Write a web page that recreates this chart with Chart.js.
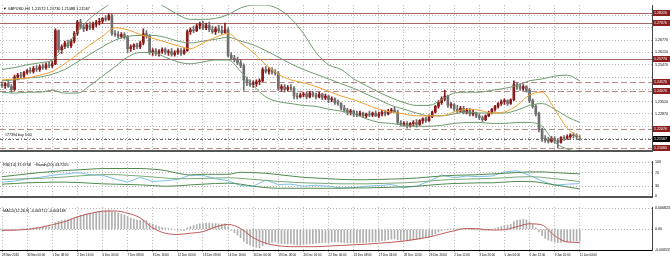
<!DOCTYPE html>
<html>
<head>
<meta charset="utf-8">
<title>GBPUSD,H4</title>
<script src="https://cdn.jsdelivr.net/npm/chart.js@4.4.1/dist/chart.umd.min.js"></script>
<style>
  html, body { margin: 0; padding: 0; background: #fff; }
  #janela { position: relative; width: 670px; height: 261px; overflow: hidden; }
  #janela canvas { position: absolute; left: 0; }
</style>
</head>
<body>
<div id="janela">
  <canvas id="principal" width="670" height="156" style="top:0"></canvas>
  <canvas id="painelRsi" width="670" height="46" style="top:156px"></canvas>
  <canvas id="painelMacd" width="670" height="59" style="top:202px"></canvas>
</div>
<script>
// Rótulos do eixo x (um a cada 8 barras de H4)
var datas = ['28 Nov 2016', '30 Nov 00:00', '1 Dec 08:00', '2 Dec 16:00', '6 Dec 00:00', '7 Dec 08:00',
    '8 Dec 16:00', '12 Dec 00:00', '13 Dec 08:00', '14 Dec 16:00', '16 Dec 00:00', '19 Dec 08:00',
    '20 Dec 16:00', '22 Dec 00:00', '23 Dec 08:00', '27 Dec 04:00', '28 Dec 12:00', '29 Dec 20:00',
    '2 Jan 12:00', '3 Jan 20:00', '5 Jan 04:00', '6 Jan 12:00', '9 Jan 20:00', '11 Jan 04:00'];

// Velas GBPUSD H4
var abertura = [1.2442, 1.2437, 1.2447, 1.2432, 1.2417, 1.2482, 1.2492, 1.2487, 1.2507, 1.2517,
    1.2512, 1.2527, 1.2522, 1.2537, 1.2532, 1.2547, 1.2542, 1.2552, 1.2727, 1.2627,
    1.2642, 1.2662, 1.2647, 1.2672, 1.2712, 1.2772, 1.2747, 1.2737, 1.2757, 1.2742,
    1.2762, 1.2772, 1.2777, 1.2792, 1.2787, 1.2807, 1.2712, 1.2707, 1.2697, 1.2707,
    1.2692, 1.2632, 1.2642, 1.2652, 1.2642, 1.2662, 1.2712, 1.2697, 1.2612, 1.2622,
    1.2607, 1.2617, 1.2627, 1.2612, 1.2617, 1.2602, 1.2612, 1.2622, 1.2607, 1.2622,
    1.2722, 1.2732, 1.2727, 1.2752, 1.2762, 1.2742, 1.2757, 1.2732, 1.2722, 1.2737,
    1.2727, 1.2717, 1.2732, 1.2597, 1.2582, 1.2572, 1.2557, 1.2542, 1.2467, 1.2452,
    1.2442, 1.2447, 1.2457, 1.2462, 1.2522, 1.2512, 1.2522, 1.2507, 1.2502, 1.2422,
    1.2432, 1.2417, 1.2427, 1.2422, 1.2382, 1.2377, 1.2387, 1.2392, 1.2377, 1.2397,
    1.2387, 1.2377, 1.2392, 1.2372, 1.2382, 1.2362, 1.2367, 1.2347, 1.2342, 1.2317,
    1.2307, 1.2297, 1.2302, 1.2287, 1.2282, 1.2292, 1.2277, 1.2287, 1.2282, 1.2292,
    1.2277, 1.2287, 1.2297, 1.2287, 1.2302, 1.2307, 1.2297, 1.2242, 1.2232, 1.2237,
    1.2227, 1.2237, 1.2242, 1.2232, 1.2252, 1.2262, 1.2252, 1.2272, 1.2297, 1.2327,
    1.2347, 1.2367, 1.2382, 1.2332, 1.2337, 1.2312, 1.2302, 1.2317, 1.2297, 1.2307,
    1.2287, 1.2292, 1.2277, 1.2267, 1.2257, 1.2277, 1.2292, 1.2312, 1.2327, 1.2342,
    1.2352, 1.2357, 1.2342, 1.2362, 1.2442, 1.2432, 1.2422, 1.2432, 1.2412, 1.2357,
    1.2327, 1.2287, 1.2202, 1.2157, 1.2147, 1.2142, 1.2157, 1.2147, 1.2137, 1.2162,
    1.2157, 1.2167, 1.2177, 1.2172, 1.21572];
var maxima = [1.2457, 1.2452, 1.2462, 1.2442, 1.2492, 1.2502, 1.2507, 1.2512, 1.2522, 1.2532,
    1.2537, 1.2542, 1.2547, 1.2552, 1.2557, 1.2562, 1.2567, 1.2737, 1.2732, 1.2652,
    1.2672, 1.2677, 1.2682, 1.2722, 1.2782, 1.2787, 1.2762, 1.2767, 1.2772, 1.2772,
    1.2782, 1.2792, 1.2797, 1.2807, 1.2817, 1.2817, 1.2727, 1.2722, 1.2717, 1.2717,
    1.2702, 1.2652, 1.2657, 1.2662, 1.2672, 1.2737, 1.2727, 1.2707, 1.2632, 1.2632,
    1.2627, 1.2637, 1.2637, 1.2627, 1.2632, 1.2622, 1.2632, 1.2632, 1.2632, 1.2732,
    1.2742, 1.2752, 1.2762, 1.2772, 1.2777, 1.2767, 1.2772, 1.2752, 1.2747, 1.2757,
    1.2752, 1.2767, 1.2742, 1.2612, 1.2597, 1.2587, 1.2572, 1.2552, 1.2482, 1.2467,
    1.2462, 1.2467, 1.2472, 1.2532, 1.2537, 1.2532, 1.2532, 1.2522, 1.2512, 1.2442,
    1.2442, 1.2437, 1.2442, 1.2432, 1.2397, 1.2397, 1.2402, 1.2402, 1.2407, 1.2407,
    1.2397, 1.2402, 1.2397, 1.2392, 1.2387, 1.2377, 1.2372, 1.2362, 1.2347, 1.2332,
    1.2317, 1.2312, 1.2307, 1.2302, 1.2302, 1.2297, 1.2292, 1.2302, 1.2297, 1.2302,
    1.2297, 1.2307, 1.2307, 1.2312, 1.2317, 1.2322, 1.2307, 1.2252, 1.2247, 1.2247,
    1.2242, 1.2252, 1.2257, 1.2257, 1.2267, 1.2272, 1.2282, 1.2302, 1.2332, 1.2357,
    1.2377, 1.2412, 1.2387, 1.2347, 1.2342, 1.2332, 1.2327, 1.2327, 1.2317, 1.2317,
    1.2307, 1.2297, 1.2287, 1.2277, 1.2282, 1.2302, 1.2317, 1.2332, 1.2347, 1.2362,
    1.2367, 1.2362, 1.2367, 1.2462, 1.2452, 1.2447, 1.2442, 1.2437, 1.2422, 1.2367,
    1.2337, 1.2297, 1.2212, 1.2172, 1.2162, 1.2167, 1.2167, 1.2157, 1.2167, 1.2172,
    1.2177, 1.2182, 1.2187, 1.2182, 1.21730];
var minima = [1.2427, 1.2422, 1.2427, 1.2402, 1.2412, 1.2467, 1.2477, 1.2472, 1.2497, 1.2502,
    1.2502, 1.2512, 1.2512, 1.2522, 1.2522, 1.2532, 1.2532, 1.2547, 1.2612, 1.2607,
    1.2632, 1.2637, 1.2637, 1.2662, 1.2702, 1.2737, 1.2722, 1.2727, 1.2732, 1.2732,
    1.2747, 1.2757, 1.2767, 1.2777, 1.2782, 1.2702, 1.2697, 1.2687, 1.2687, 1.2682,
    1.2612, 1.2617, 1.2627, 1.2632, 1.2632, 1.2652, 1.2687, 1.2602, 1.2597, 1.2597,
    1.2592, 1.2607, 1.2602, 1.2597, 1.2592, 1.2592, 1.2602, 1.2597, 1.2602, 1.2617,
    1.2707, 1.2717, 1.2722, 1.2737, 1.2732, 1.2732, 1.2722, 1.2712, 1.2707, 1.2717,
    1.2707, 1.2712, 1.2587, 1.2572, 1.2562, 1.2547, 1.2532, 1.2412, 1.2437, 1.2432,
    1.2427, 1.2432, 1.2442, 1.2457, 1.2502, 1.2497, 1.2497, 1.2492, 1.2412, 1.2407,
    1.2402, 1.2407, 1.2412, 1.2367, 1.2367, 1.2372, 1.2377, 1.2367, 1.2372, 1.2377,
    1.2367, 1.2372, 1.2362, 1.2362, 1.2347, 1.2352, 1.2337, 1.2332, 1.2307, 1.2297,
    1.2282, 1.2282, 1.2272, 1.2272, 1.2277, 1.2267, 1.2267, 1.2272, 1.2272, 1.2272,
    1.2267, 1.2277, 1.2277, 1.2282, 1.2292, 1.2292, 1.2232, 1.2222, 1.2222, 1.2212,
    1.2217, 1.2222, 1.2217, 1.2227, 1.2237, 1.2242, 1.2247, 1.2267, 1.2292, 1.2317,
    1.2337, 1.2357, 1.2322, 1.2317, 1.2302, 1.2292, 1.2297, 1.2287, 1.2287, 1.2277,
    1.2277, 1.2267, 1.2257, 1.2247, 1.2252, 1.2272, 1.2287, 1.2302, 1.2317, 1.2332,
    1.2337, 1.2332, 1.2337, 1.2357, 1.2417, 1.2412, 1.2412, 1.2402, 1.2347, 1.2317,
    1.2277, 1.2192, 1.2142, 1.2137, 1.2132, 1.2137, 1.2132, 1.2107, 1.2132, 1.2147,
    1.2152, 1.2157, 1.2162, 1.2152, 1.21488];
var fechamento = [1.2437, 1.2447, 1.2432, 1.2417, 1.2482, 1.2492, 1.2487, 1.2507, 1.2517, 1.2512,
    1.2527, 1.2522, 1.2537, 1.2532, 1.2547, 1.2542, 1.2552, 1.2727, 1.2627, 1.2642,
    1.2662, 1.2647, 1.2672, 1.2712, 1.2772, 1.2747, 1.2737, 1.2757, 1.2742, 1.2762,
    1.2772, 1.2777, 1.2792, 1.2787, 1.2807, 1.2712, 1.2707, 1.2697, 1.2707, 1.2692,
    1.2632, 1.2642, 1.2652, 1.2642, 1.2662, 1.2712, 1.2697, 1.2612, 1.2622, 1.2607,
    1.2617, 1.2627, 1.2612, 1.2617, 1.2602, 1.2612, 1.2622, 1.2607, 1.2622, 1.2722,
    1.2732, 1.2727, 1.2752, 1.2762, 1.2742, 1.2757, 1.2732, 1.2722, 1.2737, 1.2727,
    1.2717, 1.2732, 1.2597, 1.2582, 1.2572, 1.2557, 1.2542, 1.2467, 1.2452, 1.2442,
    1.2447, 1.2457, 1.2462, 1.2522, 1.2512, 1.2522, 1.2507, 1.2502, 1.2422, 1.2432,
    1.2417, 1.2427, 1.2422, 1.2382, 1.2377, 1.2387, 1.2392, 1.2377, 1.2397, 1.2387,
    1.2377, 1.2392, 1.2372, 1.2382, 1.2362, 1.2367, 1.2347, 1.2342, 1.2317, 1.2307,
    1.2297, 1.2302, 1.2287, 1.2282, 1.2292, 1.2277, 1.2287, 1.2282, 1.2292, 1.2277,
    1.2287, 1.2297, 1.2287, 1.2302, 1.2307, 1.2297, 1.2242, 1.2232, 1.2237, 1.2227,
    1.2237, 1.2242, 1.2232, 1.2252, 1.2262, 1.2252, 1.2272, 1.2297, 1.2327, 1.2347,
    1.2367, 1.2382, 1.2332, 1.2337, 1.2312, 1.2302, 1.2317, 1.2297, 1.2307, 1.2287,
    1.2292, 1.2277, 1.2267, 1.2257, 1.2277, 1.2292, 1.2312, 1.2327, 1.2342, 1.2352,
    1.2357, 1.2342, 1.2362, 1.2442, 1.2432, 1.2422, 1.2432, 1.2412, 1.2357, 1.2327,
    1.2287, 1.2202, 1.2157, 1.2147, 1.2142, 1.2157, 1.2147, 1.2137, 1.2162, 1.2157,
    1.2167, 1.2177, 1.2172, 1.2167, 1.21567];

// Barras onde as linhas dos indicadores foram lidas
var amostras = [0, 4, 8, 12, 16, 20, 24, 28, 32, 36, 40, 44, 48, 52, 56, 60, 64, 68, 72, 76, 80, 84, 88, 92,
    96, 100, 104, 108, 112, 116, 120, 124, 128, 132, 136, 140, 144, 148, 152, 156, 160, 164, 168, 172, 176, 180, 184];
var mediaLaranja = [1.2467, 1.2472, 1.2477, 1.2492, 1.2512, 1.2552, 1.2602, 1.2652, 1.2697, 1.2742,
    1.2732, 1.2707, 1.2687, 1.2667, 1.2647, 1.2632, 1.2662, 1.2692, 1.2712, 1.2662,
    1.2612, 1.2547, 1.2497, 1.2467, 1.2452, 1.2432, 1.2407, 1.2382, 1.2362, 1.2337,
    1.2312, 1.2297, 1.2287, 1.2277, 1.2277, 1.2277, 1.2297, 1.2312, 1.2307, 1.2292,
    1.2297, 1.2332, 1.2387, 1.2402, 1.2312, 1.2212, 1.2162];
var bandaSuperior = [1.2522, 1.2532, 1.2547, 1.2557, 1.2572, 1.2637, 1.2722, 1.2792, 1.2842, 1.2882,
    1.2892, 1.2892, 1.2882, 1.2852, 1.2812, 1.2787, 1.2787, 1.2792, 1.2812, 1.2847,
    1.2862, 1.2862, 1.2842, 1.2792, 1.2712, 1.2612, 1.2547, 1.2522, 1.2472, 1.2437,
    1.2402, 1.2372, 1.2347, 1.2332, 1.2332, 1.2362, 1.2397, 1.2402, 1.2402, 1.2412,
    1.2422, 1.2437, 1.2462, 1.2472, 1.2487, 1.2492, 1.2462];
var bandaMedia = [1.2462, 1.2467, 1.2477, 1.2482, 1.2497, 1.2522, 1.2562, 1.2602, 1.2642, 1.2677,
    1.2697, 1.2702, 1.2702, 1.2692, 1.2672, 1.2662, 1.2672, 1.2682, 1.2692, 1.2672,
    1.2652, 1.2622, 1.2587, 1.2552, 1.2522, 1.2497, 1.2472, 1.2447, 1.2422, 1.2392,
    1.2362, 1.2332, 1.2312, 1.2292, 1.2277, 1.2277, 1.2287, 1.2297, 1.2292, 1.2292,
    1.2292, 1.2307, 1.2332, 1.2342, 1.2312, 1.2272, 1.2242];
var bandaInferior = [1.2402, 1.2397, 1.2402, 1.2402, 1.2412, 1.2397, 1.2397, 1.2437, 1.2487, 1.2537,
    1.2587, 1.2612, 1.2612, 1.2587, 1.2562, 1.2552, 1.2562, 1.2572, 1.2572, 1.2512,
    1.2437, 1.2377, 1.2352, 1.2342, 1.2332, 1.2327, 1.2312, 1.2302, 1.2287, 1.2262,
    1.2242, 1.2237, 1.2227, 1.2222, 1.2222, 1.2227, 1.2237, 1.2242, 1.2242, 1.2237,
    1.2237, 1.2242, 1.2242, 1.2222, 1.2137, 1.2102, 1.2087];

// RSI(14) e as bandas sobre o RSI
var rsi = [42, 45, 52, 56, 62, 66, 70, 64, 62, 51, 42, 56, 44, 46, 50, 63, 62, 52, 46,
    32, 30, 48, 35, 36, 30, 33, 30, 25, 26, 30, 32, 35, 26, 30, 45,
    63, 55, 60, 58, 60, 72, 75, 62, 45, 33, 36, 37.68];
var rsiSuperior = [58, 62, 66, 70, 73, 76, 78, 80, 82, 82, 82, 82, 80, 76, 68, 63, 65, 65, 65,
    71, 70, 68, 64, 60, 56, 54, 52, 50, 49, 49, 50, 51, 52, 54, 57, 60, 62, 63, 64, 66,
    68, 70, 72, 72, 70, 68, 66];
var rsiMedia = [50, 51, 52, 53, 55, 57, 60, 62, 64, 64, 62, 60, 57, 54, 52, 52, 53, 54, 55, 53,
    50, 47, 44, 42, 40, 39, 38, 37, 37, 37, 38, 39, 40, 42, 45, 48, 50, 51, 52, 53,
    55, 57, 58, 56, 52, 48, 43.72];
var rsiInferior = [36, 38, 40, 41, 42, 42, 41, 39, 37, 36, 35, 34, 32, 30, 31, 34, 36, 38, 39,
    36, 30, 26, 24, 24, 24, 24, 24, 24, 25, 25, 26, 27, 28, 30, 33, 36, 38, 39, 40, 40,
    42, 44, 44, 40, 34, 28, 22];

// MACD(12,26,9): linha principal (histograma, uma por barra) e sinal
var macdPrincipal = [-0.0002, -0.0003, -0.0003, -0.0004, -0.0003, -0.0001, 0.0001, 0.0002,
    0.0003, 0.0004, 0.0005, 0.0006, 0.0006, 0.0007, 0.0008, 0.0009,
    0.0010, 0.0022, 0.0026, 0.0028, 0.0030, 0.0031, 0.0033, 0.0036,
    0.0042, 0.0045, 0.0047, 0.0049, 0.0050, 0.0052, 0.0054, 0.0056,
    0.0058, 0.0060, 0.0062, 0.0058, 0.0055, 0.0052, 0.0049, 0.0046,
    0.0040, 0.0036, 0.0033, 0.0030, 0.0028, 0.0030, 0.0028, 0.0020,
    0.0016, 0.0012, 0.0009, 0.0007, 0.0005, 0.0003, 0.0001, -0.0001,
    -0.0002, -0.0002, -0.0003, 0.0005, 0.0009, 0.0012, 0.0015, 0.0018,
    0.0019, 0.0020, 0.0020, 0.0019, 0.0019, 0.0018, 0.0017, 0.0018,
    0.0008, -0.0002, -0.0010, -0.0018, -0.0026, -0.0038, -0.0045, -0.0050,
    -0.0054, -0.0057, -0.0059, -0.0052, -0.0047, -0.0044, -0.0041, -0.0039,
    -0.0043, -0.0045, -0.0046, -0.0046, -0.0046, -0.0048, -0.0049, -0.0049,
    -0.0048, -0.0047, -0.0046, -0.0045, -0.0044, -0.0043, -0.0042, -0.0041,
    -0.0041, -0.0040, -0.0040, -0.0040, -0.0041, -0.0042, -0.0043, -0.0043,
    -0.0043, -0.0043, -0.0042, -0.0042, -0.0041, -0.0040, -0.0039, -0.0039,
    -0.0038, -0.0036, -0.0035, -0.0033, -0.0031, -0.0030, -0.0033, -0.0035,
    -0.0036, -0.0036, -0.0035, -0.0034, -0.0033, -0.0031, -0.0028, -0.0026,
    -0.0023, -0.0019, -0.0014, -0.0009, -0.0005, -0.0001, 0.0001, 0.0002,
    0.0002, 0.0002, 0.0003, 0.0002, 0.0002, 0.0001, 0.0000, -0.0001,
    -0.0002, -0.0003, -0.0003, -0.0002, 0.0000, 0.0003, 0.0006, 0.0009,
    0.0012, 0.0014, 0.0016, 0.0025, 0.0029, 0.0031, 0.0032, 0.0030,
    0.0024, 0.0016, 0.0006, -0.0008, -0.0020, -0.0028, -0.0034, -0.0037,
    -0.0040, -0.0042, -0.0041, -0.0040, -0.0039, -0.0038, -0.0037, -0.0037, -0.003712];
var macdSinal = [-0.0003, -0.0002, 0.0000, 0.0006, 0.0015, 0.0025, 0.0040, 0.0051, 0.0058, 0.0059,
    0.0052, 0.0037, 0.0005, -0.0012, -0.0016, -0.0012, -0.0007, 0.0008, 0.0016, 0.0003,
    -0.0026, -0.0044, -0.0052, -0.0055, -0.0055, -0.0055, -0.0053, -0.0051, -0.0049, -0.0047,
    -0.0044, -0.0041, -0.0037, -0.0031, -0.0024, -0.0014, -0.0004, 0.0003, 0.0002, -0.0002,
    -0.0001, 0.0009, 0.0018, 0.0014, -0.0020, -0.0040, -0.004148];

// Escalas e linhas horizontais
var precoTicks = [1.2807, 1.2742, 1.2677, 1.2612, 1.2547, 1.2482, 1.2417, 1.2352, 1.2287, 1.2222, 1.2157];
var niveisSolidos = [1.2822, 1.2767, 1.2577];
var niveisTracejados = [1.2457, 1.2407, 1.2207, 1.2106];
var precoAtual = 1.21567;
var rsiTicks = [100, 70, 30, 0];
var macdTicks = [0.006824, 0, -0.006555];

var corGrade = '#b4b4b4';
var fonte = '"Liberation Sans", "DejaVu Sans", sans-serif';

function pontos(valores) {
    return valores.map(function(v, k) { return { x: amostras[k], y: v }; });
}

function eixoX(comRotulos) {
    var eixo = {
        type: 'linear',
        offset: false,
        bounds: 'data',
        min: -0.64,
        max: 207,
        afterBuildTicks: function(escala) {
            escala.ticks = datas.map(function(d, k) { return { value: k * 8 }; });
        },
        ticks: {
            display: comRotulos,
            autoSkip: false,
            maxRotation: 0,
            align: 'start',
            padding: 1,
            color: '#000',
            font: { family: fonte, size: 3 },
            callback: function(v) { return datas[Math.round(v / 8)]; }
        },
        grid: { color: corGrade, offset: false, drawTicks: comRotulos, tickLength: 2 },
        border: { display: true, color: comRotulos ? '#000' : '#555', width: comRotulos ? 1 : 2, dash: [1, 2] }
    };
    eixo.afterFit = function(escala) {
        escala.height = comRotulos ? 11 : 2;
        escala.paddingLeft = 0;
        escala.paddingRight = 0;
    };
    return eixo;
}

function eixoY(min, max, valores, formato) {
    return {
        position: 'right',
        min: min,
        max: max,
        afterBuildTicks: function(escala) {
            escala.ticks = valores.map(function(v) { return { value: v }; });
        },
        afterFit: function(escala) { escala.width = 18; },
        ticks: { color: '#000', padding: 3, font: { family: fonte, size: 3.6 }, callback: formato },
        grid: { color: corGrade, drawTicks: false },
        border: { display: true, color: '#444', width: 1, dash: [1, 2] }
    };
}

function opcoesBase(escalas, titulo) {
    return {
        responsive: false,
        animation: false,
        events: [],
        layout: { padding: 0 },
        plugins: { legend: { display: false }, tooltip: { enabled: false }, titulo: { texto: titulo } },
        scales: escalas
    };
}

// Escreve o titulo de cada painel no canto superior esquerdo
var pluginTitulo = {
    id: 'titulo',
    afterDraw: function(chart, args, opcoes) {
        var ctx = chart.ctx;
        ctx.save();
        ctx.font = '3.8px ' + fonte;
        ctx.fillStyle = '#000';
        ctx.textBaseline = 'middle';
        ctx.fillText(opcoes.texto, chart.chartArea.left + 3, chart.chartArea.top + 4);
        ctx.restore();
    }
};

function etiqueta(ctx, escala, valor, fundo) {
    var py = Math.round(escala.getPixelForValue(valor));
    ctx.fillStyle = fundo;
    ctx.fillRect(escala.left + 1, py - 3, 17, 6);
    ctx.fillStyle = '#fff';
    ctx.fillText(valor.toFixed(5), escala.left + 2, py + 0.3);
}

// Linhas de suporte/resistencia, ordem aberta e etiquetas de preco
var pluginNiveis = {
    id: 'niveis',
    beforeDatasetsDraw: function(chart) {
        var ctx = chart.ctx, area = chart.chartArea, y = chart.scales.y;
        ctx.save();
        ctx.lineWidth = 1;
        function linha(v, cor, traco) {
            var py = Math.round(y.getPixelForValue(v)) + 0.5;
            ctx.strokeStyle = cor;
            ctx.setLineDash(traco);
            ctx.beginPath();
            ctx.moveTo(area.left, py);
            ctx.lineTo(area.right, py);
            ctx.stroke();
        }
        niveisSolidos.forEach(function(v) { linha(v, '#a86666', []); });
        niveisTracejados.forEach(function(v) { linha(v, '#b98b8b', [6, 3]); });
        linha(precoAtual, '#666', [3, 2, 1, 2]);
        ctx.restore();
    },
    afterDraw: function(chart) {
        var ctx = chart.ctx, y = chart.scales.y;
        ctx.save();
        ctx.font = '3.6px ' + fonte;
        ctx.textBaseline = 'middle';
        niveisSolidos.concat(niveisTracejados).forEach(function(v) { etiqueta(ctx, y, v, '#8e1f1f'); });
        etiqueta(ctx, y, precoAtual, '#000');
        ctx.fillStyle = '#000';
        ctx.fillText('#77394 buy 5.00', chart.chartArea.left + 5, y.getPixelForValue(precoAtual) - 4);
        ctx.restore();
    }
};

Chart.register(pluginTitulo);

// Painel principal: velas, bandas de Bollinger e media
var corpo = [], pavio = [], coresVela = [];
for (var i = 0; i < fechamento.length; i++) {
    corpo.push({ x: i, y: [abertura[i], fechamento[i]] });
    pavio.push({ x: i, y: [minima[i], maxima[i]] });
    coresVela.push(fechamento[i] >= abertura[i] ? '#8b1a1a' : '#6e6e6e');
}

var escalasPreco = {
    x: eixoX(false),
    y: eixoY(1.2092, 1.2862, precoTicks, function(v) {
        var perto = niveisSolidos.concat(niveisTracejados, [precoAtual]).some(function(n) {
            return Math.abs(n - v) < 0.0025;
        });
        return perto ? '' : v.toFixed(5);
    })
};

new Chart(document.getElementById('principal'), {
    type: 'bar',
    data: {
        datasets: [
            { type: 'line', data: pontos(mediaLaranja), borderColor: '#f0a030', borderWidth: 1, pointRadius: 0, cubicInterpolationMode: 'monotone', order: 1 },
            { type: 'line', data: pontos(bandaSuperior), borderColor: '#6f9a6f', borderWidth: 1, pointRadius: 0, cubicInterpolationMode: 'monotone', order: 1 },
            { type: 'line', data: pontos(bandaMedia), borderColor: '#6f9a6f', borderWidth: 1, pointRadius: 0, cubicInterpolationMode: 'monotone', order: 1 },
            { type: 'line', data: pontos(bandaInferior), borderColor: '#6f9a6f', borderWidth: 1, pointRadius: 0, cubicInterpolationMode: 'monotone', order: 1 },
            { data: corpo, backgroundColor: coresVela, barThickness: 2, grouped: false, order: 2 },
            { data: pavio, backgroundColor: coresVela, barThickness: 1, grouped: false, order: 3 }
        ]
    },
    options: opcoesBase(escalasPreco, '\u25BC GBPUSD,H4  1.21572 1.21730 1.21488 1.21567'),
    plugins: [pluginNiveis]
});

// Painel do RSI
new Chart(document.getElementById('painelRsi'), {
    type: 'line',
    data: {
        datasets: [
            { data: pontos(rsiSuperior), borderColor: '#4f8a4f', borderWidth: 1, pointRadius: 0, cubicInterpolationMode: 'monotone' },
            { data: pontos(rsiMedia), borderColor: '#7aa87a', borderWidth: 1, pointRadius: 0, cubicInterpolationMode: 'monotone' },
            { data: pontos(rsiInferior), borderColor: '#4f8a4f', borderWidth: 1, pointRadius: 0, cubicInterpolationMode: 'monotone' },
            { data: pontos(rsi), borderColor: '#7cc0e8', borderWidth: 1, pointRadius: 0 }
        ]
    },
    options: opcoesBase({
        x: eixoX(false),
        y: eixoY(-1.2, 103.6, rsiTicks, function(v) { return String(v); })
    }, 'RSI(14) 37.6758   ~Bands(20) 43.7205')
});

// Painel do MACD
var barrasMacd = macdPrincipal.map(function(v, k) { return { x: k, y: v }; });
new Chart(document.getElementById('painelMacd'), {
    type: 'bar',
    data: {
        datasets: [
            { type: 'line', data: pontos(macdSinal), borderColor: '#c05a5a', borderWidth: 1, pointRadius: 0, cubicInterpolationMode: 'monotone', order: 1 },
            { data: barrasMacd, backgroundColor: '#b0b0b0', barThickness: 1, order: 2 }
        ]
    },
    options: opcoesBase({
        x: eixoX(true),
        y: eixoY(-0.006555, 0.007109, macdTicks, function(v) { return v === 0 ? '0.00' : v.toFixed(6); })
    }, 'MACD(12,26,9) -0.003712 -0.004148')
});
</script>
</body>
</html>
